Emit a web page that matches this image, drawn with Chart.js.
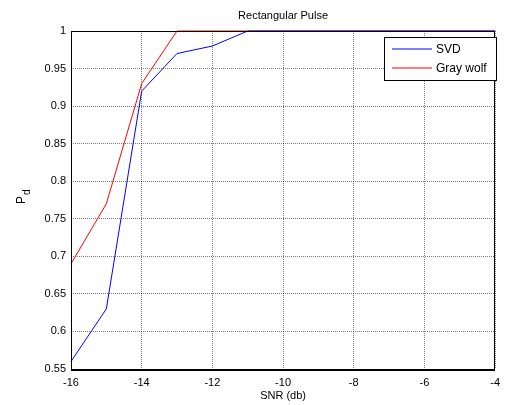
<!DOCTYPE html>
<html>
<head>
<meta charset="utf-8">
<script src="https://cdn.jsdelivr.net/npm/chart.js@4.4.0/dist/chart.umd.min.js"></script>
<style>
  html, body { margin: 0; padding: 0; background: #fff; }
  #wrap { width: 507px; height: 405px; }
</style>
</head>
<body>
<div id="wrap"><canvas id="myChart"></canvas></div>
<script>
"use strict"

// data
const snr = [-16, -15, -14, -13, -12, -11, -10, -9, -8, -7, -6, -5, -4];
const svd = [0.56, 0.63, 0.92, 0.97, 0.98, 1, 1, 1, 1, 1, 1, 1, 1];
const grayWolf = [0.69, 0.77, 0.93, 1, 1, 1, 1, 1, 1, 1, 1, 1, 1];
const xTicks = ['-16', '-14', '-12', '-10', '-8', '-6', '-4'];
const yTicks = ['0.55', '0.6', '0.65', '0.7', '0.75', '0.8', '0.85', '0.9', '0.95', '1'];
const seriesColors = ['#0000ff', '#ff0000'];

const FONT = 'Liberation Sans, Arial, sans-serif';

function toPoints(ys) {
    return snr.map((x, i) => ({x: x, y: ys[i]}));
}

// frame, title, axis labels and legend box
const matlabBits = {
    id: 'matlabBits',
    afterDraw(chart) {
        const c = chart.ctx;
        const a = chart.chartArea;
        const l = Math.round(a.left), r = Math.round(a.right);
        const t = Math.round(a.top), b = Math.round(a.bottom);
        c.save();
        c.setLineDash([]);
        c.strokeStyle = '#000';
        c.lineWidth = 1;
        c.beginPath();
        c.moveTo(l + 0.5, b);
        c.lineTo(l + 0.5, t + 0.5);
        c.lineTo(r - 0.5, t + 0.5);
        c.lineTo(r - 0.5, b);
        c.stroke();
        c.lineWidth = 2;
        c.beginPath();
        c.moveTo(l, b + 1);
        c.lineTo(r, b + 1);
        c.stroke();

        c.fillStyle = '#000';
        c.font = '11px ' + FONT;
        c.textAlign = 'center';
        c.textBaseline = 'alphabetic';
        const mid = (a.left + a.right) / 2;
        c.fillText('Rectangular Pulse', mid, 19);
        c.fillText('SNR (db)', mid, 399);

        // P with subscript d
        c.save();
        c.translate(25, 204);
        c.rotate(-Math.PI / 2);
        c.textAlign = 'left';
        c.font = '12px ' + FONT;
        c.fillText('P', 0, 0);
        c.font = '10px ' + FONT;
        c.fillText('d', 9, 5);
        c.restore();

        // legend
        const lx = 384, ly = 37, lw = 112, lh = 43;
        c.fillStyle = '#fff';
        c.fillRect(lx, ly, lw, lh);
        c.strokeStyle = '#000';
        c.lineWidth = 1;
        c.strokeRect(lx + 0.5, ly + 0.5, lw, lh);
        c.font = '12px ' + FONT;
        c.textAlign = 'left';
        c.textBaseline = 'middle';
        chart.data.datasets.forEach((ds, i) => {
            const y = ly + 12 + i * 19;
            c.beginPath();
            c.strokeStyle = seriesColors[i];
            c.lineWidth = 1;
            c.moveTo(lx + 8, y);
            c.lineTo(lx + 48, y);
            c.stroke();
            c.fillStyle = '#000';
            c.fillText(ds.label, lx + 52, y + 1);
        });
        c.restore();
    }
};

const ctx = document.getElementById('myChart');

const myChart = new Chart(ctx, {
    type: 'line',
    data: {
        datasets: [{
            label: 'SVD',
            data: toPoints(svd),
            borderColor: seriesColors[0],
            borderWidth: 1,
            pointRadius: 0,
            tension: 0,
            clip: 2
        }, {
            label: 'Gray wolf',
            data: toPoints(grayWolf),
            borderColor: seriesColors[1],
            borderWidth: 1,
            pointRadius: 0,
            tension: 0,
            clip: 2
        }]
    },
    options: {
        responsive: true,
        maintainAspectRatio: false,
        animation: false,
        layout: {
            padding: {left: 0, right: 6, top: 31, bottom: 0}
        },
        plugins: {
            legend: {display: false},
            title: {display: false},
            tooltip: {enabled: false}
        },
        scales: {
            x: {
                type: 'linear',
                min: -16,
                max: -4,
                afterFit: s => { s.height = 36; },
                afterBuildTicks: s => { s.ticks = xTicks.map(t => ({value: +t})); },
                ticks: {
                    padding: 7,
                    color: '#000',
                    font: {family: FONT, size: 11},
                    maxRotation: 0,
                    callback: (v, i) => xTicks[i]
                },
                grid: {
                    color: 'rgba(0,0,0,0.5)',
                    drawTicks: false
                },
                border: {display: false, dash: [1, 1]}
            },
            y: {
                min: 0.55,
                max: 1,
                afterFit: s => { s.width = 71; },
                afterBuildTicks: s => { s.ticks = yTicks.map(t => ({value: +t})); },
                ticks: {
                    padding: 5,
                    color: '#000',
                    font: {family: FONT, size: 11},
                    callback: (v, i) => yTicks[i]
                },
                grid: {
                    color: 'rgba(0,0,0,0.5)',
                    drawTicks: false
                },
                border: {display: false, dash: [1, 1]}
            }
        }
    },
    plugins: [matlabBits]
});
</script>
</body>
</html>
